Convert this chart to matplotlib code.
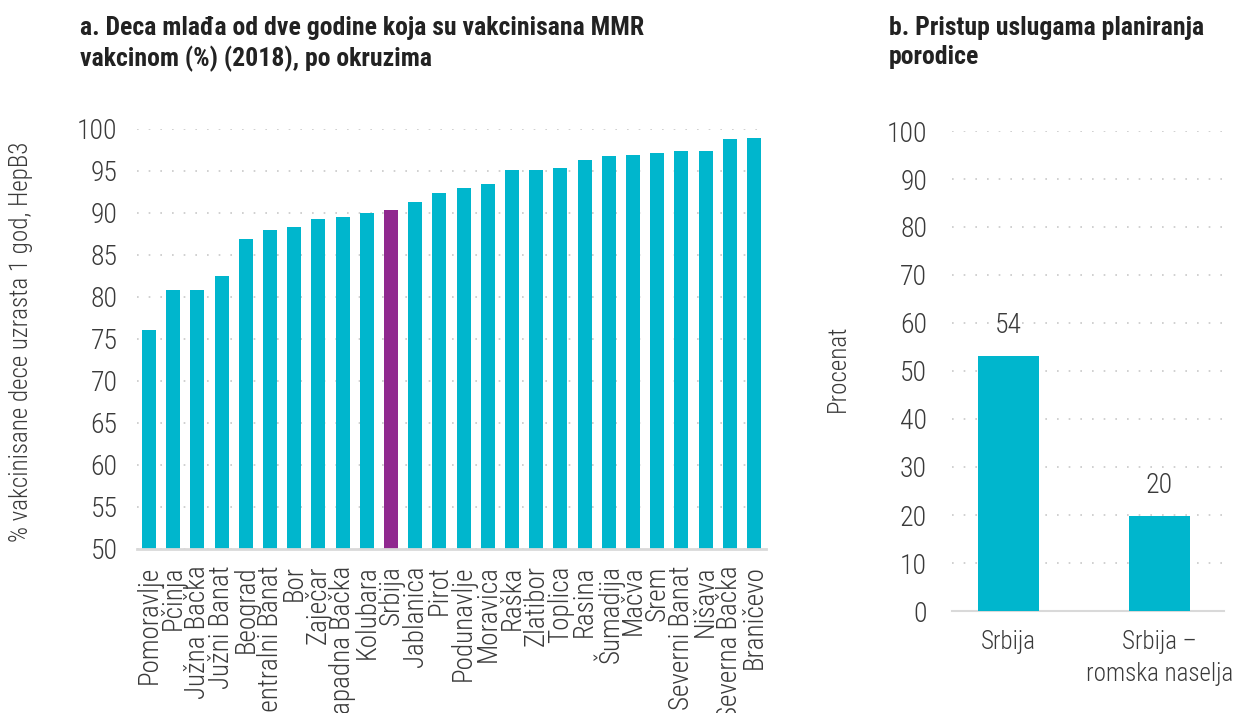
import matplotlib
matplotlib.use("Agg")
import matplotlib.pyplot as plt
from matplotlib import font_manager

# ---- data ----
districts = ["Pomoravlje", "Pčinja", "Južna Bačka", "Južni Banat", "Beograd",
             "Centralni Banat", "Bor", "Zaječar", "Zapadna Bačka", "Kolubara",
             "Srbija", "Jablanica", "Pirot", "Podunavlje", "Moravica", "Raška",
             "Zlatibor", "Toplica", "Rasina", "Šumadija", "Mačva", "Srem",
             "Severni Banat", "Nišava", "Severna Bačka", "Braničevo"]
coverage = [76.0, 80.8, 80.8, 82.5, 86.9, 87.9, 88.3, 89.2, 89.5, 90.0,
            90.3, 91.3, 92.4, 92.9, 93.4, 95.1, 95.1, 95.3, 96.3, 96.7,
            96.9, 97.1, 97.4, 97.4, 98.8, 98.9]
highlight = "Srbija"
left_yticks = [50, 55, 60, 65, 70, 75, 80, 85, 90, 95, 100]

fp_groups = ["Srbija", "Srbija –\nromska naselja"]
fp_values = [53.2, 19.8]
fp_labels = ["54", "20"]
right_yticks = [0, 10, 20, 30, 40, 50, 60, 70, 80, 90, 100]

TEAL = "#00B6CD"
PURPLE = "#90288F"
TXT = "#3a3a3a"
GRID = "#c8c8c8"

names = {f.name for f in font_manager.fontManager.ttflist}
def pick(cands):
    for c in cands:
        if c in names:
            return c
    return "DejaVu Sans"

LABEL_FONT = pick(["Roboto Condensed", "Open Sans Condensed", "Liberation Sans Narrow", "Archivo Narrow", "PT Sans Narrow"])
TITLE_FONT = pick(["Roboto Condensed", "Oswald", "Open Sans Condensed", "Liberation Sans Narrow"])
plt.rcParams["font.family"] = [LABEL_FONT, "DejaVu Sans"]
LW = "light"

fig = plt.figure(figsize=(12.33, 7.13), dpi=100)

# ---- panel a ----
ax1 = fig.add_axes([137/1233, 1-548.7/713, 629/1233, 420/713])
x = list(range(len(districts)))
colors = [PURPLE if d == highlight else TEAL for d in districts]
ax1.bar(x, coverage, width=0.58, color=colors, zorder=3)
ax1.set_xlim(-0.5, len(districts)-0.5)
ax1.set_ylim(50, 100)
ax1.set_yticks(left_yticks)
ax1.set_xticks(x)
ax1.set_xticklabels(districts, rotation=90, fontsize=19.5, color=TXT, fontweight=LW)
ax1.set_yticklabels([str(v) for v in left_yticks], fontsize=20, color=TXT, fontweight=LW)
ax1.tick_params(axis="x", length=0, pad=12)
ax1.tick_params(axis="y", length=0, pad=14)
ax1.yaxis.grid(True, linestyle=(0, (1, 6)), color=GRID, linewidth=1.2, zorder=0)
for s in ["top", "right", "left"]:
    ax1.spines[s].set_visible(False)
ax1.spines["bottom"].set_color("#d9d9d9")
ax1.spines["bottom"].set_linewidth(2)
ax1.spines["bottom"].set_zorder(4)
ax1.set_ylabel("% vakcinisane dece uzrasta 1 god, HepB3", fontsize=18, color=TXT, fontweight=LW)
ax1.yaxis.set_label_coords(-0.165, 0.492)

fig.text(80/1233, 1-16/713, "a. Deca mlađa od dve godine koja su vakcinisana MMR\nvakcinom (%) (2018), po okruzima",
         fontsize=18.5, fontweight="bold", color="#222222", va="top", ha="left", linespacing=1.28,
         family=[TITLE_FONT, "DejaVu Sans"])

# ---- panel b ----
ax2 = fig.add_axes([952/1233, 1-611/713, 272/1233, 480/713])
xb = list(range(len(fp_groups)))
bars = ax2.bar(xb, fp_values, width=0.40, color=TEAL, zorder=3)
for b, lab in zip(bars, fp_labels):
    ax2.annotate(lab, (b.get_x()+b.get_width()/2, b.get_height()), xytext=(0, 12),
                 textcoords="offset points", ha="center", va="bottom", fontsize=20,
                 color=TXT, fontweight=LW)
ax2.set_xlim(-0.374, 1.427)
ax2.set_ylim(0, 100)
ax2.set_yticks(right_yticks)
ax2.set_xticks(xb)
ax2.set_xticklabels(fp_groups, fontsize=18, color=TXT, linespacing=1.4, fontweight=LW)
ax2.set_yticklabels([str(v) for v in right_yticks], fontsize=20, color=TXT, fontweight=LW)
ax2.tick_params(axis="x", length=0, pad=14)
ax2.tick_params(axis="y", length=0, pad=18)
ax2.yaxis.grid(True, linestyle=(0, (1, 6)), color=GRID, linewidth=1.2, zorder=0)
for s in ["top", "right", "left"]:
    ax2.spines[s].set_visible(False)
ax2.spines["bottom"].set_color("#d9d9d9")
ax2.spines["bottom"].set_linewidth(1.5)
ax2.set_ylabel("Procenat", fontsize=18, color=TXT, fontweight=LW)
ax2.yaxis.set_label_coords(-0.375, 0.506)

fig.text(889/1233, 1-16/713, "b. Pristup uslugama planiranja\nporodice",
         fontsize=18.5, fontweight="bold", color="#222222", va="top", ha="left", linespacing=1.28,
         family=[TITLE_FONT, "DejaVu Sans"])

fig.savefig("out.png", dpi=100)
